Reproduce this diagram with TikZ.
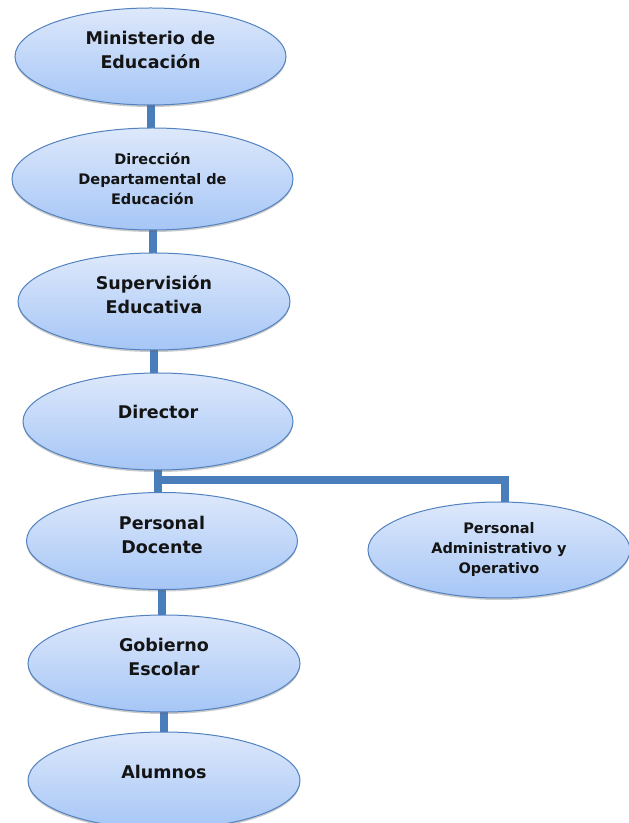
\documentclass[tikz,border=0pt]{standalone}
\usepackage{fontspec}
\setmainfont{DejaVu Sans}
\usetikzlibrary{shapes.geometric,backgrounds,shadows}
\definecolor{bartop}{HTML}{DDE8FB}
\definecolor{barbot}{HTML}{A6C6F6}
\definecolor{edge}{HTML}{5282C0}
\definecolor{conncol}{HTML}{4A7EBB}
\tikzset{
  x=1pt,y=1pt,
  ell/.style={ellipse, draw=edge, line width=1pt, top color=bartop, bottom color=barbot,
    inner sep=0pt, drop shadow={shadow xshift=0pt, shadow yshift=-2pt, opacity=0.35, fill=black!60}},
  lblbig/.style={align=center, font=\fontsize{17.5}{24}\selectfont\bfseries, text=black!92},
  lblsmall/.style={align=center, font=\fontsize{14.5}{20}\selectfont\bfseries, text=black!92},
  conn/.style={draw=conncol, line width=8pt}
}
\begin{document}
\begin{tikzpicture}
\useasboundingbox (0,0) rectangle (629,823);
% ellipses (y = 823 - pixel y)
\node[ell, minimum width=271, minimum height=97] (min) at (150.5,766.5) {};
\node[ell, minimum width=281, minimum height=102] (dir) at (152.5,644) {};
\node[ell, minimum width=272, minimum height=97] (sup) at (154,521.5) {};
\node[ell, minimum width=270, minimum height=97] (dct) at (158,401.5) {};
\node[ell, minimum width=271, minimum height=97] (doc) at (162,282) {};
\node[ell, minimum width=262, minimum height=96] (adm) at (499,273) {};
\node[ell, minimum width=272, minimum height=97] (gob) at (164,159.5) {};
\node[ell, minimum width=272, minimum height=97] (alu) at (164,42.5) {};
% texts
\node[lblbig] (minT) at (150.5,773) {Ministerio de\\Educación};
\node[lblsmall] (dirT) at (152.5,644) {Dirección\\Departamental de\\Educación};
\node[lblbig] (supT) at (154,528) {Supervisión\\Educativa};
\node[lblbig] (dctT) at (158,411) {Director};
\node[lblbig] (docT) at (162,288) {Personal\\Docente};
\node[lblsmall] (admT) at (499,273) {Personal\\Administrativo y\\Operativo};
\node[lblbig] (gobT) at (164,166) {Gobierno\\Escolar};
\node[lblbig] (aluT) at (164,51) {Alumnos};
\coordinate (jn) at (158,343);
\begin{pgfonlayer}{background}
\draw[conn] (min.center) -- (min.center |- dir.center);
\draw[conn] (dir.center) -- (dir.center |- sup.center);
\draw[conn] (sup.center) -- (sup.center |- dct.center);
\draw[conn] (dct.center) -- (dct.center |- doc.center);
\draw[conn] (jn) -| ([xshift=6pt]adm.center);
\draw[conn] (doc.center) -- (doc.center |- gob.center);
\draw[conn] (gob.center) -- (gob.center |- alu.center);
\end{pgfonlayer}
\end{tikzpicture}
\end{document}
